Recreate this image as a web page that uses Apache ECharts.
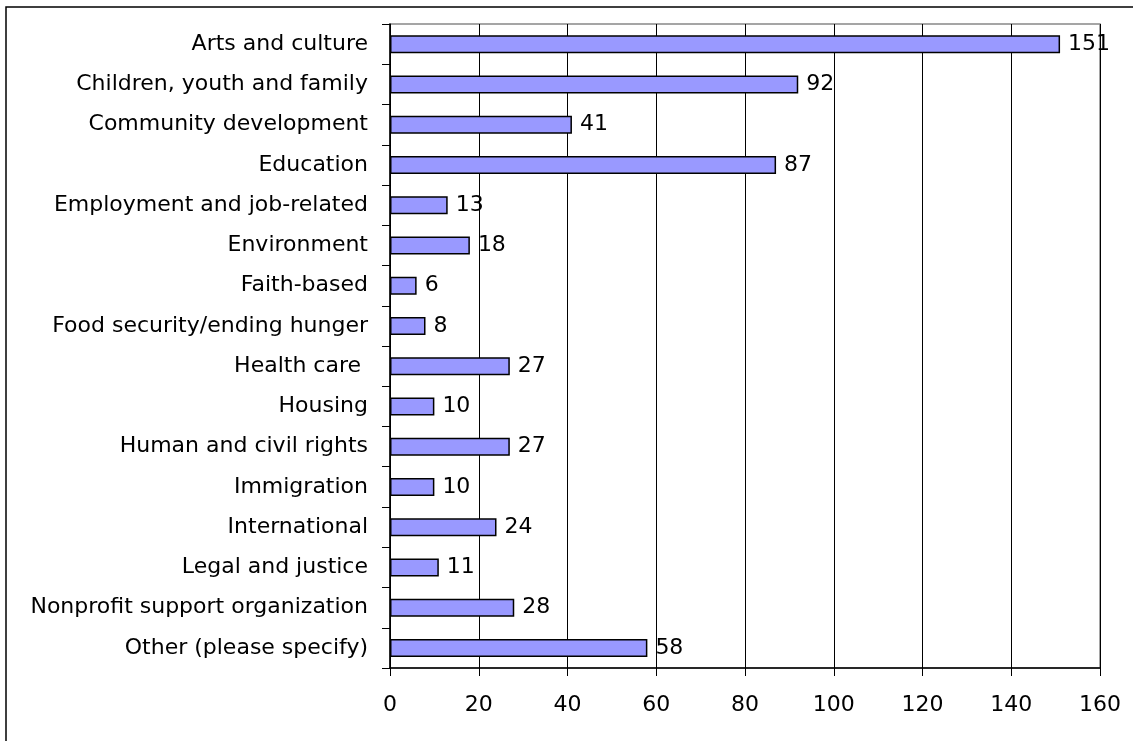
<!DOCTYPE html>
<html><head><meta charset="utf-8">
<script src="https://cdn.jsdelivr.net/npm/echarts@6/dist/echarts.min.js"></script>
<style>html,body{margin:0;padding:0;background:#fff}#c{width:1133px;height:741px}</style>
</head><body><div id="c"></div>
<script>
const categories = ["Arts and culture","Children, youth and family","Community development","Education","Employment and job-related","Environment","Faith-based","Food security/ending hunger","Health care ","Housing","Human and civil rights","Immigration","International","Legal and justice","Nonprofit support organization","Other (please specify)"];
const values = [151,92,41,87,13,18,6,8,27,10,27,10,24,11,28,58];
const xTicks = [0,20,40,60,80,100,120,140,160];

const chart = echarts.init(document.getElementById('c'));
chart.setOption({
  animation:false,
  textStyle:{fontFamily:'DejaVu Sans, sans-serif'},
  graphic:[{type:'rect',shape:{x:6,y:7,width:1300,height:900},style:{fill:'none',stroke:'#000',lineWidth:1.5},silent:true}],
  grid:{left:390,right:33,top:24,bottom:73,containLabel:false,show:true,borderColor:'#888',borderWidth:1.5},
  xAxis:{type:'value',min:xTicks[0],max:xTicks[xTicks.length-1],interval:20,
    axisLine:{show:true,lineStyle:{color:'#000',width:1.5}},
    axisTick:{show:true,length:8,lineStyle:{color:'#000',width:1}},
    axisLabel:{fontSize:22,color:'#000',margin:26,fontFamily:'DejaVu Sans, sans-serif'},
    splitLine:{show:true,lineStyle:{color:'#000',width:1}}},
  yAxis:{type:'category',data:categories,inverse:true,
    axisLine:{show:true,lineStyle:{color:'#000',width:1.5}},
    axisTick:{show:true,length:8,lineStyle:{color:'#000'}},
    axisLabel:{fontSize:22,color:'#000',margin:22,fontFamily:'DejaVu Sans, sans-serif'}},
  series:[{type:'bar',data:values,barWidth:18,
    itemStyle:{color:'#9999FF',borderColor:'#000',borderWidth:1.5},
    label:{show:true,position:'right',distance:8,fontSize:22,color:'#000',fontFamily:'DejaVu Sans, sans-serif'}}]
});
</script></body></html>
